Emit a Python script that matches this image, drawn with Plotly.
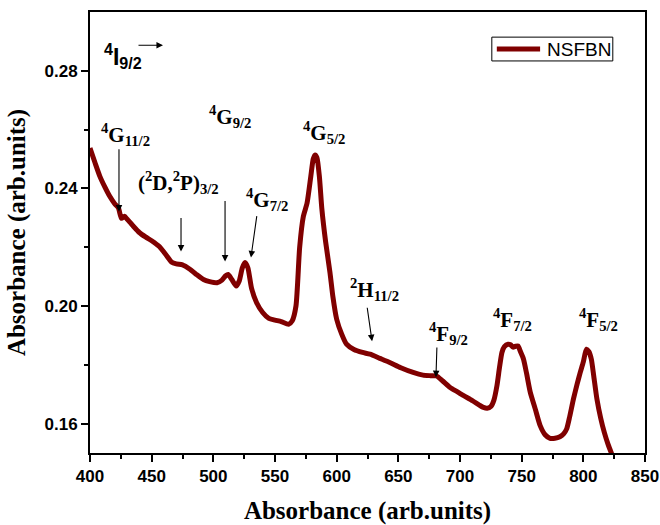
import plotly.graph_objects as go

wavelength = [400, 404, 408, 412, 416, 420, 423, 425.5, 428, 430, 435, 440, 445, 450, 456, 462, 466, 470, 475, 481,
              486, 492, 497, 503, 507, 510, 512, 515, 518.5, 521, 523.5, 525.7, 528, 531, 535, 540, 545, 550, 555, 561,
              564, 567, 570, 573, 576, 579, 581, 582.5, 584, 586, 588, 591, 594.6, 597, 600, 604, 608, 614, 621, 627,
              635, 643, 652, 662, 670, 676, 681, 686, 692, 698, 703, 710, 716, 719, 722, 725, 727.5, 730, 732, 734,
              736, 739, 741, 743, 745, 747, 749, 751.5, 754, 757, 761, 765, 769, 773, 777, 781, 784, 786.5, 789, 792,
              795, 797.5, 800, 802.5, 804.5, 806.5, 808.5, 811, 814, 817, 820, 823]
absorbance = [0.2537, 0.2488, 0.2441, 0.2405, 0.2373, 0.2348, 0.2334, 0.2298, 0.2305, 0.2296, 0.2272, 0.2250, 0.2235,
              0.2222, 0.2203, 0.2172, 0.2150, 0.2143, 0.2140, 0.2125, 0.2108, 0.2090, 0.2083, 0.2079, 0.2088, 0.2103,
              0.2107, 0.2090, 0.2068, 0.2085, 0.2130, 0.2148, 0.2130, 0.2060, 0.2012, 0.1978, 0.1958, 0.1952, 0.1947,
              0.1938, 0.1950, 0.2000, 0.2200, 0.2305, 0.2350, 0.2440, 0.2500, 0.2514, 0.2505, 0.2440, 0.2330, 0.2220,
              0.2113, 0.2030, 0.1955, 0.1905, 0.1870, 0.1852, 0.1842, 0.1836, 0.1822, 0.1808, 0.1790, 0.1774, 0.1765,
              0.1763, 0.1762, 0.1745, 0.1723, 0.1708, 0.1695, 0.1678, 0.1662, 0.1655, 0.1652, 0.1658, 0.1680, 0.1730,
              0.1790, 0.1842, 0.1862, 0.1870, 0.1868, 0.1860, 0.1863, 0.1864, 0.1845, 0.1819, 0.1770, 0.1706, 0.1650,
              0.1593, 0.1562, 0.1550, 0.1550, 0.1555, 0.1565, 0.1582, 0.1625, 0.1684, 0.1735, 0.1774, 0.1810, 0.1853,
              0.1845, 0.1819, 0.1760, 0.1684, 0.1620, 0.1570, 0.1530, 0.1497]

series_name = "NSFBN"
x_ticks = [400, 450, 500, 550, 600, 650, 700, 750, 800, 850]
y_ticks = [0.16, 0.20, 0.24, 0.28]

# label text, x (left), y (top)
labels = [
    ("<sup>2</sup>H<sub>11/2</sub>", 609.0, 0.2113),
    ("<sup>4</sup>G<sub>11/2</sub>", 407.0, 0.2638),
    ("(<sup>2</sup>D,<sup>2</sup>P)<sub>3/2</sub>", 437.5, 0.2475),
    ("<sup>4</sup>G<sub>9/2</sub>", 494.5, 0.2701),
    ("<sup>4</sup>G<sub>7/2</sub>", 524.5, 0.2418),
    ("<sup>4</sup>G<sub>5/2</sub>", 571.0, 0.2645),
    ("<sup>4</sup>F<sub>9/2</sub>", 673.0, 0.1963),
    ("<sup>4</sup>F<sub>7/2</sub>", 725.5, 0.2011),
    ("<sup>4</sup>F<sub>5/2</sub>", 794.5, 0.2011),
]
# arrows: tail x, tail y, head x, head y
arrows = [
    (438.1, 0.2887, 459.2, 0.2887),
    (423.5, 0.2538, 423.5, 0.2321),
    (473.8, 0.2304, 473.8, 0.2185),
    (509.5, 0.2362, 509.5, 0.2151),
    (535.4, 0.2311, 530.5, 0.2165),
    (624.6, 0.1999, 628.7, 0.1880),
    (681.3, 0.1864, 680.5, 0.1758),
]

fig = go.Figure()
fig.add_trace(go.Scatter(x=wavelength, y=absorbance, mode="lines", name=series_name,
                         line=dict(color="#800000", width=5, shape="spline", smoothing=0.6)))

annotations = []
serif = dict(family="Liberation Serif", size=21, color="black", weight="bold")
for txt, lx, ty in labels:
    annotations.append(dict(x=lx, y=ty, xref="x", yref="y", text=txt, showarrow=False,
                            xanchor="left", yanchor="top", font=serif))
annotations.append(dict(x=410.0, y=0.2912, xref="x", yref="y", text="<sup>4</sup>I<sub>9/2</sub>",
                        showarrow=False, xanchor="left", yanchor="top",
                        font=dict(family="Liberation Sans", size=23, color="black", weight="bold")))
for tx, ty, hx, hy in arrows:
    annotations.append(dict(x=hx, y=hy, ax=tx, ay=ty, xref="x", yref="y", axref="x", ayref="y",
                            text="", showarrow=True, arrowhead=2, arrowsize=1.2, arrowwidth=1.1,
                            arrowcolor="black"))

# legend box (drawn manually for compact size)
annotations.append(dict(x=0.8198, y=0.916, xref="paper", yref="paper", text=series_name, showarrow=False,
                        xanchor="left", yanchor="middle",
                        font=dict(family="Liberation Sans", size=19, color="black")))
shapes = [
    dict(type="rect", xref="paper", yref="paper", x0=0.724, x1=0.942, y0=0.889, y1=0.943,
         line=dict(color="black", width=1), fillcolor="rgba(0,0,0,0)"),
    dict(type="line", xref="paper", yref="paper", x0=0.733, x1=0.811, y0=0.916, y1=0.916,
         line=dict(color="#800000", width=5)),
]

fig.update_layout(
    width=660, height=525,
    margin=dict(l=90, r=15, t=12, b=72, autoexpand=False),
    paper_bgcolor="white", plot_bgcolor="white",
    showlegend=False,
    xaxis=dict(range=[400, 850], tickvals=x_ticks, ticks="outside", ticklen=7, tickwidth=2,
               tickcolor="black", showline=True, linecolor="black", linewidth=2, mirror=True,
               showgrid=False, zeroline=False, automargin=False,
               minor=dict(tickvals=[425, 475, 525, 575, 625, 675, 725, 775, 825], ticks="outside",
                          ticklen=4, tickwidth=1.5, tickcolor="black"),
               tickfont=dict(family="Liberation Sans", size=17, color="black", weight="bold"),
               title=dict(text="Absorbance (arb.units)", standoff=16,
                          font=dict(family="Liberation Serif", size=25, color="black", weight="bold"))),
    yaxis=dict(range=[0.15, 0.30], tickvals=y_ticks, tickformat=".2f", ticks="outside", ticklen=7,
               tickwidth=2, tickcolor="black", showline=True, linecolor="black", linewidth=2, mirror=True,
               showgrid=False, zeroline=False, automargin=False,
               minor=dict(tickvals=[0.18, 0.22, 0.26], ticks="outside", ticklen=4, tickwidth=1.5,
                          tickcolor="black"),
               tickfont=dict(family="Liberation Sans", size=17, color="black", weight="bold"),
               title=dict(text="Absorbance (arb.units)", standoff=12,
                          font=dict(family="Liberation Serif", size=25, color="black", weight="bold"))),
    annotations=annotations,
    shapes=shapes,
)

fig.write_html("out.html")
